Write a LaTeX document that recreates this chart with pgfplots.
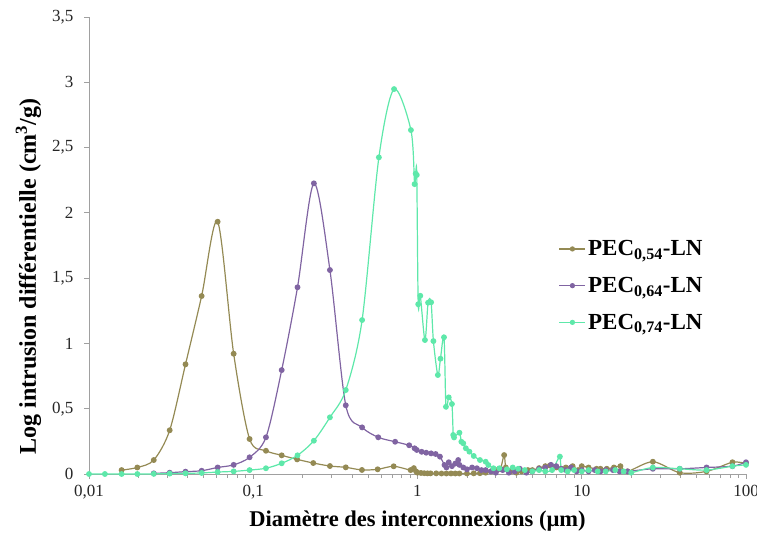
\documentclass[border=0pt]{standalone}
\usepackage{pgfplots}
\pgfplotsset{compat=1.18}
\usepackage{fontspec}
\setmainfont{Liberation Serif}
\definecolor{cbrown}{RGB}{148,138,84}
\definecolor{cpurple}{RGB}{128,100,162}
\definecolor{cgreen}{RGB}{94,232,170}
\definecolor{axgray}{RGB}{160,160,160}
\begin{document}
\begin{tikzpicture}
\begin{axis}[
  scale only axis, width=657pt, height=457pt,
  xmode=log, xmin=0.01, xmax=100, ymin=0, ymax=3.5,
  axis x line*=bottom, axis y line*=left,
  axis line style={axgray, line width=0.8pt},
  tick style={axgray, line width=0.8pt},
  tick align=outside,
  major tick length=5pt, minor tick length=4pt,
  xtick={0.01,0.1,1,10,100},
  xticklabels={{0,01},{0,1},1,10,100},
  minor xtick={0.02,0.03,0.04,0.05,0.06,0.07,0.08,0.09,0.2,0.3,0.4,0.5,0.6,0.7,0.8,0.9,2,3,4,5,6,7,8,9,20,30,40,50,60,70,80,90},
  ytick={0,0.5,1,1.5,2,2.5,3,3.5},
  yticklabels={0,{0,5},1,{1,5},2,{2,5},3,{3,5}},
  ticklabel style={font=\fontsize{17}{20}\selectfont, text=black!85},
  yticklabel style={xshift=-7pt},
  xticklabel style={yshift=-3pt},
  xlabel={\textbf{Diamètre des interconnexions (µm)}},
  ylabel={\textbf{Log intrusion différentielle (cm\textsuperscript{3}/g)}},
  every axis x label/.style={at={(axis description cs:0.5,-0.102)}, anchor=center, font=\fontsize{22.5}{26}\selectfont},
  every axis y label/.style={at={(axis description cs:-0.092,0.432)}, rotate=90, anchor=center, font=\fontsize{24}{28}\selectfont},
  legend style={draw=none, fill=none, at={(axis description cs:0.71,0.52)}, anchor=north west,
    font=\fontsize{23}{27}\selectfont\bfseries, row sep=16pt},
  legend cell align=left,
  legend image code/.code={\draw[#1, line width=1.5pt] (0pt,0pt) -- (26pt,0pt); \fill[#1] (13pt,0pt) circle (2pt);},
  every axis plot/.append style={smooth, tension=0.5, line width=1.2pt, mark=*, mark size=2.3pt},
  clip=false,
]
\addplot[cbrown, mark options={fill=cbrown}] coordinates {
(0.0158,0.03)(0.0197,0.05)(0.0248,0.107)(0.031,0.335)(0.0387,0.84)(0.0485,1.363)(0.0607,1.932)(0.076,0.921)(0.095,0.268)(0.1195,0.178)(0.149,0.143)(0.185,0.112)(0.232,0.084)(0.293,0.061)(0.366,0.051)(0.459,0.031)(0.572,0.036)(0.716,0.059)(0.908,0.03)(0.95,0.045)(0.98,0.02)(1.0,0.01)(1.05,0.008)(1.1,0.006)(1.15,0.005)(1.2,0.005)(1.3,0.005)(1.4,0.004)(1.5,0.004)(1.6,0.004)(1.7,0.004)(1.8,0.004)(2.0,0.004)(2.2,0.005)(2.4,0.006)(2.6,0.01)(2.8,0.02)(3.0,0.03)(3.2,0.04)(3.37,0.145)(3.45,0.05)(3.7,0.02)(4.0,0.01)(4.3,0.02)(4.7,0.03)(5.0,0.03)(5.5,0.045)(6.0,0.06)(6.4,0.065)(7.0,0.05)(7.5,0.04)(8.0,0.05)(8.8,0.06)(9.5,0.03)(10,0.06)(11,0.05)(12.3,0.04)(13,0.04)(14.2,0.04)(15.7,0.05)(17.2,0.06)(19,0.02)(27.1,0.094)(39.5,0.01)(57.5,0.02)(82.7,0.09)(100,0.08)
};
\addlegendentry{PEC\textsubscript{0,54}-LN}
\addplot[cpurple, mark options={fill=cpurple}] coordinates {
(0.0248,0.005)(0.031,0.01)(0.0387,0.018)(0.0485,0.025)(0.0607,0.05)(0.076,0.07)(0.095,0.128)(0.1195,0.281)(0.149,0.796)(0.186,1.43)(0.234,2.226)(0.293,1.562)(0.366,0.526)(0.46,0.357)(0.577,0.281)(0.731,0.247)(0.89,0.22)(0.96,0.197)(0.99,0.184)(1.06,0.17)(1.13,0.163)(1.21,0.158)(1.29,0.153)(1.37,0.133)(1.46,0.069)(1.5,0.05)(1.55,0.09)(1.62,0.06)(1.7,0.08)(1.77,0.107)(1.8,0.07)(1.9,0.05)(2.0,0.036)(2.15,0.05)(2.3,0.044)(2.45,0.03)(2.6,0.03)(2.8,0.02)(3.0,0.01)(3.3,0.03)(3.6,0.01)(3.9,0.02)(4.2,0.04)(4.6,0.01)(5.0,0.02)(5.5,0.04)(6.0,0.05)(6.5,0.07)(7.0,0.06)(7.5,0.04)(8.0,0.03)(8.6,0.05)(9.3,0.02)(10,0.03)(11,0.02)(12,0.03)(13,0.02)(14,0.03)(15.5,0.03)(17,0.02)(19,0.02)(27.1,0.04)(39.5,0.04)(57.5,0.05)(82.7,0.06)(100,0.09)
};
\addlegendentry{PEC\textsubscript{0,64}-LN}
\addplot[cgreen, mark options={fill=cgreen}] coordinates {
(0.01,0)(0.0125,0)(0.0158,0)(0.0197,0)(0.0248,0.001)(0.031,0.003)(0.0387,0.005)(0.0485,0.008)(0.0607,0.015)(0.076,0.02)(0.095,0.03)(0.1195,0.044)(0.149,0.082)(0.186,0.143)(0.234,0.255)(0.293,0.434)(0.366,0.643)(0.46,1.179)(0.582,2.425)(0.72,2.948)(0.912,2.634)(0.96,2.22)(0.975,2.30)(0.99,2.29)(1.01,1.30)(1.04,1.365)(1.11,1.026)(1.16,1.312)(1.21,1.315)(1.25,1.018)(1.33,0.758)(1.38,0.883)(1.45,1.047)(1.49,0.515)(1.55,0.587)(1.62,0.536)(1.65,0.299)(1.67,0.28)(1.8,0.316)(1.85,0.247)(1.9,0.235)(1.97,0.197)(2.07,0.171)(2.2,0.138)(2.4,0.107)(2.6,0.094)(2.7,0.069)(2.9,0.044)(3.15,0.044)(3.5,0.036)(3.8,0.05)(4.1,0.04)(4.5,0.03)(5.0,0.02)(5.5,0.03)(6.0,0.02)(6.6,0.03)(7.36,0.133)(7.5,0.03)(8.2,0.02)(9.0,0.03)(10,0.02)(11,0.03)(12.5,0.02)(14,0.02)(16,0.03)(18,0.02)(20,0.01)(27.1,0.05)(39.5,0.04)(57.5,0.03)(82.7,0.06)(100,0.07)
};
\addlegendentry{PEC\textsubscript{0,74}-LN}
\end{axis}
\pgfresetboundingbox
\path ([shift={(-89pt,-64pt)}]current axis.south west) rectangle ([shift={(11pt,17pt)}]current axis.north east);
\end{tikzpicture}
\end{document}
